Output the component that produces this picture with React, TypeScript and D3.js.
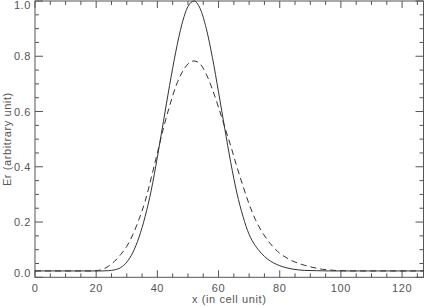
import React, { useEffect, useRef } from "react";
import * as d3 from "d3";

const xSolid = [0, 20, 22, 24, 26, 28, 30, 32, 34, 36, 38, 40, 42, 44, 46, 48, 50, 52, 54, 56, 58, 60, 62, 64, 66, 68, 70, 72, 74, 76, 78, 80, 82, 84, 86, 88, 92, 96, 127];
const ySolid = [0.023, 0.023, 0.023, 0.024, 0.027, 0.035, 0.055, 0.09, 0.145, 0.22, 0.315, 0.435, 0.565, 0.695, 0.815, 0.915, 0.98, 1.0, 0.972, 0.9, 0.795, 0.67, 0.54, 0.415, 0.305, 0.22, 0.155, 0.115, 0.087, 0.066, 0.052, 0.042, 0.035, 0.03, 0.027, 0.025, 0.024, 0.023, 0.023];

const xDashed = [0, 16, 18, 20, 22, 24, 26, 28, 30, 32, 34, 36, 38, 40, 42, 44, 46, 48, 50, 52, 54, 56, 58, 60, 62, 64, 66, 68, 70, 72, 74, 76, 78, 80, 82, 84, 86, 88, 90, 92, 94, 96, 98, 100, 104, 127];
const yDashed = [0.023, 0.023, 0.023, 0.024, 0.028, 0.04, 0.058, 0.082, 0.112, 0.155, 0.21, 0.275, 0.36, 0.45, 0.54, 0.62, 0.69, 0.74, 0.772, 0.783, 0.772, 0.735, 0.68, 0.615, 0.545, 0.475, 0.4, 0.33, 0.265, 0.21, 0.168, 0.135, 0.108, 0.087, 0.072, 0.06, 0.051, 0.044, 0.038, 0.033, 0.029, 0.027, 0.025, 0.024, 0.023, 0.023];

const xTicks = [0, 20, 40, 60, 80, 100, 120];
const yTicks = [0, 0.2, 0.4, 0.6, 0.8, 1.0];

const App = () => {
  const ref = useRef<SVGSVGElement>(null);

  useEffect(() => {
    const svg = d3.select(ref.current);
    svg.selectAll("*").remove();

    const left = 35, right = 423.5, top = 1, bottom = 277.3;

    const x = d3.scaleLinear().domain([0, 127]).range([left, right]);
    const y = d3.scaleLinear().domain([0, 1]).range([bottom, top]);

    const axisColor = "#555";
    const textColor = "#555";
    const font = "'Liberation Sans', Arial, sans-serif";

    // frame
    svg.append("rect")
      .attr("x", left).attr("y", top)
      .attr("width", right - left).attr("height", bottom - top)
      .attr("fill", "none").attr("stroke", axisColor).attr("stroke-width", 1);

    // x ticks (bottom + top), major every 20, minor every 5
    d3.range(0, 127, 5).forEach((v) => {
      const len = v % 20 === 0 ? 7 : 4;
      svg.append("line")
        .attr("x1", x(v)).attr("x2", x(v))
        .attr("y1", bottom).attr("y2", bottom - len)
        .attr("stroke", axisColor);
      svg.append("line")
        .attr("x1", x(v)).attr("x2", x(v))
        .attr("y1", top).attr("y2", top + len)
        .attr("stroke", axisColor);
    });

    // y ticks (left + right), major every 0.2, minor every 0.05
    d3.range(0, 21).map((i) => i * 0.05).forEach((v, i) => {
      const len = i % 4 === 0 ? 8 : 4;
      svg.append("line")
        .attr("x1", left).attr("x2", left + len)
        .attr("y1", y(v)).attr("y2", y(v))
        .attr("stroke", axisColor);
      svg.append("line")
        .attr("x1", right).attr("x2", right - len)
        .attr("y1", y(v)).attr("y2", y(v))
        .attr("stroke", axisColor);
    });

    // tick labels
    svg.selectAll(".xl")
      .data(xTicks)
      .enter()
      .append("text")
      .attr("x", (d) => x(d))
      .attr("y", 292)
      .attr("text-anchor", "middle")
      .attr("font-family", font)
      .attr("font-size", 11)
      .attr("letter-spacing", 0.6)
      .attr("fill", textColor)
      .text((d) => d);

    svg.selectAll(".yl")
      .data(yTicks)
      .enter()
      .append("text")
      .attr("x", 31)
      .attr("y", (d) => Math.min(Math.max(y(d), 5), 273) + 4)
      .attr("text-anchor", "end")
      .attr("font-family", font)
      .attr("font-size", 11)
      .attr("letter-spacing", 0.6)
      .attr("fill", textColor)
      .text((d) => d.toFixed(1));

    // axis titles
    svg.append("text")
      .attr("x", (left + right) / 2)
      .attr("y", 303)
      .attr("text-anchor", "middle")
      .attr("font-family", font)
      .attr("font-size", 11)
      .attr("letter-spacing", 0.6)
      .attr("fill", textColor)
      .text("x (in cell unit)");

    svg.append("text")
      .attr("transform", `translate(11, ${(top + bottom) / 2}) rotate(-90)`)
      .attr("text-anchor", "middle")
      .attr("font-family", font)
      .attr("font-size", 11)
      .attr("letter-spacing", 0.6)
      .attr("fill", textColor)
      .text("Er (arbitrary unit)");

    // curves
    const line = d3
      .line<[number, number]>()
      .x((d) => x(d[0]))
      .y((d) => y(d[1]))
      .curve(d3.curveMonotoneX);

    const solid = xSolid.map((v, i) => [v, ySolid[i]] as [number, number]);
    const dashed = xDashed.map((v, i) => [v, yDashed[i]] as [number, number]);

    svg.append("path")
      .attr("d", line(solid))
      .attr("fill", "none")
      .attr("stroke", "#333")
      .attr("stroke-width", 1);

    svg.append("path")
      .attr("d", line(dashed))
      .attr("fill", "none")
      .attr("stroke", "#333")
      .attr("stroke-width", 1)
      .attr("stroke-dasharray", "6,4");
  }, []);

  return (
    <svg
      ref={ref}
      width={424}
      height={306}
      style={{ position: "absolute", left: 0, top: 0, background: "#fff" }}
    />
  );
};

export default App;
